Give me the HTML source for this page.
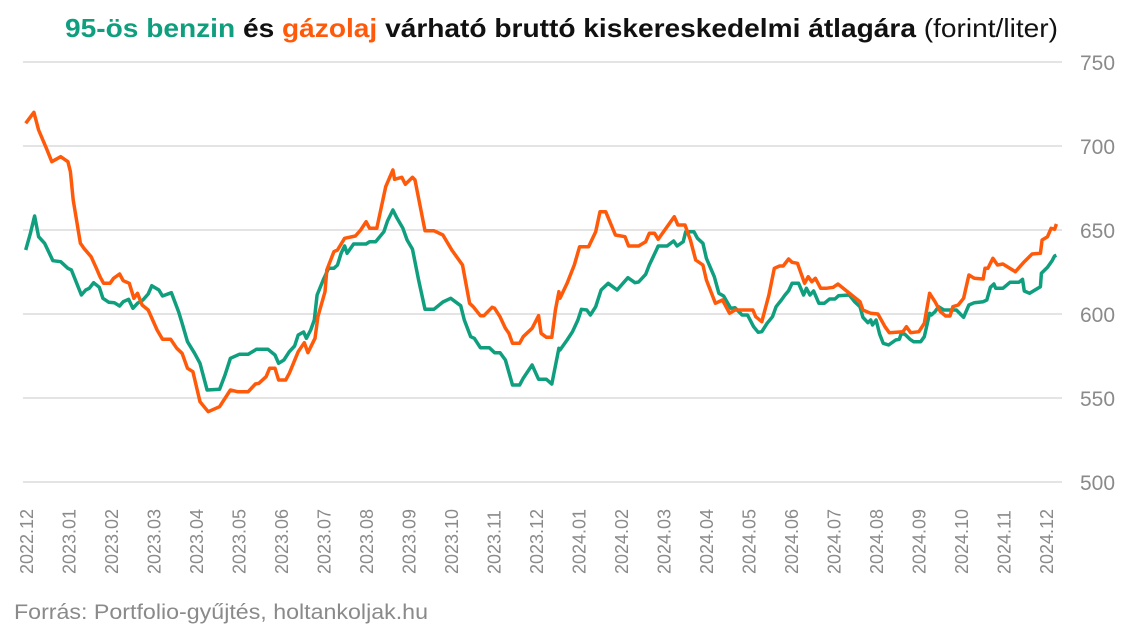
<!DOCTYPE html>
<html><head><meta charset="utf-8"><style>
body{margin:0;background:#fff;width:1124px;height:632px;overflow:hidden;font-family:"Liberation Sans",sans-serif}
</style></head><body>
<svg width="1124" height="632" xmlns="http://www.w3.org/2000/svg" font-family="Liberation Sans, sans-serif">
<text x="65" y="37" textLength="993" lengthAdjust="spacingAndGlyphs" font-size="26" fill="#111"><tspan font-weight="bold" fill="#0f9f7e">95-ös benzin</tspan><tspan font-weight="bold"> és </tspan><tspan font-weight="bold" fill="#ff5a0a">gázolaj</tspan><tspan font-weight="bold"> várható bruttó kiskereskedelmi átlagára</tspan><tspan> (forint/liter)</tspan></text>
<g stroke="#c8c8c8" stroke-width="1">
<line x1="23" x2="1062" y1="62" y2="62"/><line x1="23" x2="1062" y1="146" y2="146"/><line x1="23" x2="1062" y1="230" y2="230"/><line x1="23" x2="1062" y1="314" y2="314"/><line x1="23" x2="1062" y1="398" y2="398"/><line x1="23" x2="1062" y1="482" y2="482"/>
</g>
<g fill="#8a8a8a" font-size="21">
<text x="1080" y="70">750</text><text x="1080" y="154">700</text><text x="1080" y="238">650</text><text x="1080" y="322">600</text><text x="1080" y="406">550</text><text x="1080" y="490">500</text>
</g>
<g id="xl" fill="#8a8a8a" font-size="18"></g>
<text x="14" y="619" font-size="21" textLength="414" lengthAdjust="spacingAndGlyphs" fill="#8a8a8a">Forrás: Portfolio-gyűjtés, holtankoljak.hu</text>
<polyline id="g" fill="none" stroke="#0f9f7e" stroke-width="3.5" stroke-linejoin="round"/>
<polyline id="o" fill="none" stroke="#ff5a0a" stroke-width="3.5" stroke-linejoin="round"/>
</svg>
<script>
function tr(a,ox,oy){var r=[];for(var i=0;i<a.length;i+=2)r.push((a[i]/2.8+ox).toFixed(1)+","+(a[i+1]/3+oy).toFixed(1));return r;}
var g2=[72,480,85,430,97,378,108,440,125,460,148,512,170,515,190,535,200,540,228,615,240,600,250,595,262,578,278,592,288,625,305,637,320,638,335,648,345,635,360,628,372,655,385,640,400,630,415,612,425,587,445,600,455,618,480,608,500,665,510,700,525,755,545,790,560,820,580,900,615,898,630,855,645,805,670,793,695,793,718,778,750,778,770,795,780,820,795,810,810,785,825,768,835,735,850,726,858,745,870,720,880,690,888,615,905,570,920,535,935,535,945,525,955,490,965,468,972,490,990,462,1025,462,1035,455,1052,455,1075,425,1085,393,1100,360,1112,385,1128,415,1140,450,1155,478,1172,570,1190,658,1215,658,1240,636,1262,625,1290,647,1300,690,1318,740,1328,745,1345,773,1370,773,1385,788,1400,788,1415,810,1435,885,1455,885,1465,865,1490,825,1508,868,1530,868,1545,882,1565,775];
var g3=[0,510,20,480,35,455,50,420,60,388,75,390,85,405,100,380,115,330,135,310,160,330,190,293,210,308,220,306,240,283,250,255,270,210,275,198,300,198,318,183,328,198,345,185,352,155,375,155,385,175,400,190,410,235,420,260,432,290,445,340,458,348,478,385,490,383,510,405,525,405,542,440,555,457,565,455,580,430,595,410,605,380,620,360,630,345,640,332,650,310,668,310,682,345,690,325,700,345,710,333,725,370,740,370,755,357,770,357,780,347,810,345,825,365,840,380,848,412,862,428,870,420,875,435,885,420,895,462,905,490,920,495,940,480,950,478,955,462,965,462,980,478,990,485,1010,485,1020,470,1035,400,1040,405,1050,395,1060,380,1075,390,1110,390,1130,412,1145,375,1160,368,1185,365,1195,360,1205,322,1215,312,1220,325,1240,325,1260,307,1285,307,1295,298,1300,333,1315,340,1345,320,1348,280,1365,262,1378,242,1385,228,1390,226];
var o2=[72,100,95,67,108,120,130,175,145,215,170,200,190,215,197,245,205,330,225,460,235,475,255,500,270,535,280,560,290,580,308,580,318,565,335,552,345,572,362,580,375,625,385,610,398,645,415,660,440,720,455,748,478,748,495,775,510,790,525,835,540,845,560,935,583,965,615,950,630,925,645,900,665,905,695,905,715,882,725,880,745,860,755,835,770,835,780,870,800,870,810,850,835,785,852,758,862,788,882,745,890,680,910,605,915,540,935,485,945,480,965,445,995,438,1010,420,1025,395,1035,415,1055,415,1080,290,1100,240,1105,268,1125,262,1135,283,1155,262,1162,270,1190,422,1215,422,1240,435,1265,480,1295,525,1315,640,1325,650,1345,677,1355,677,1378,652,1385,655,1400,680,1415,715,1425,730,1435,760,1455,760,1465,740,1490,715,1508,677,1515,730,1530,742,1545,742,1555,660,1565,605];
var o3=[0,355,20,310,40,255,55,200,80,200,100,155,112,95,128,95,155,165,182,170,192,198,220,198,240,185,250,160,265,160,275,178,300,140,320,110,330,135,350,135,365,180,380,240,400,255,410,300,435,370,455,360,475,400,490,390,540,390,548,410,565,425,585,345,600,265,615,258,625,258,640,237,650,247,665,250,685,310,695,290,705,305,715,295,730,325,745,325,765,322,778,312,840,365,848,390,870,400,890,402,910,440,922,458,960,455,970,440,982,458,1005,455,1020,430,1035,340,1050,365,1065,395,1080,408,1092,408,1100,380,1115,375,1130,355,1145,285,1160,295,1185,297,1190,265,1198,265,1212,235,1225,255,1240,252,1275,275,1300,245,1322,222,1345,220,1350,180,1365,170,1375,145,1385,148,1390,132];
document.getElementById('g').setAttribute('points',tr(g2,0,90).concat(tr(g3,560,180)).join(' '));
document.getElementById('o').setAttribute('points',tr(o2,0,90).concat(tr(o3,560,180)).join(' '));
var xl=document.getElementById('xl'),s='';
var labs=['2022.12'];for(var m=1;m<=12;m++)labs.push('2023.'+(m<10?'0':'')+m);for(m=1;m<=12;m++)labs.push('2024.'+(m<10?'0':'')+m);
for(var i=0;i<labs.length;i++){var x=33+i*42.5;s+='<text transform="translate('+x.toFixed(1)+',574) rotate(-90)">'+labs[i]+'</text>';}
xl.innerHTML=s;
</script>
</body></html>
